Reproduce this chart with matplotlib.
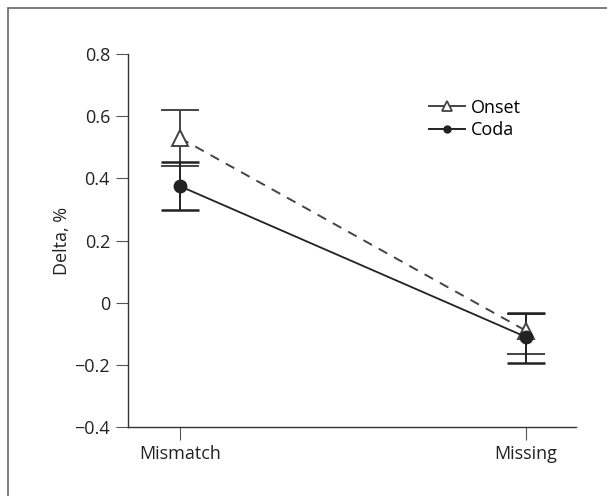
import matplotlib
matplotlib.use("Agg")
import matplotlib.pyplot as plt
from matplotlib.lines import Line2D
from matplotlib.patches import Rectangle

# data
conditions = ["Mismatch", "Missing"]
onset_mean = [0.53, -0.09]
onset_err_lo = [0.09, 0.075]
onset_err_hi = [0.09, 0.055]
coda_mean = [0.375, -0.11]
coda_err_lo = [0.078, 0.083]
coda_err_hi = [0.078, 0.078]

plt.rcParams['font.family'] = ['Open Sans', 'DejaVu Sans']
plt.rcParams['font.size'] = 13
plt.rcParams['axes.linewidth'] = 1.0

fig = plt.figure(figsize=(6.07, 4.96), dpi=100)
ax = fig.add_axes([0.211, 0.139, 0.738, 0.752])

x = list(range(len(conditions)))
ink = "#222222"
grey = "#444444"

ax.errorbar(x, onset_mean, yerr=[onset_err_lo, onset_err_hi], color=grey,
            ls=(0, (5, 4)), lw=1.4, marker="^", ms=11, mfc="white", mec=grey,
            mew=1.4, capsize=14, capthick=1.8, elinewidth=1.4)
ax.errorbar(x, coda_mean, yerr=[coda_err_lo, coda_err_hi], color=ink,
            ls="-", lw=1.3, marker="o", ms=9, mfc=ink, mec=ink,
            capsize=14, capthick=1.8, elinewidth=1.4)

ax.set_xlim(-0.15, 1.145)
ax.set_ylim(-0.4, 0.8)
ax.set_yticks([-0.4, -0.2, 0, 0.2, 0.4, 0.6, 0.8])
ax.set_yticklabels(["\u22120.4", "\u22120.2", "0", "0.2", "0.4", "0.6", "0.8"])
ax.set_xticks(x)
ax.set_xticklabels(conditions)
ax.set_ylabel("Delta, %", color=ink, fontsize=13, labelpad=2)

for s in ["top", "right"]:
    ax.spines[s].set_visible(False)
for s in ["left", "bottom"]:
    ax.spines[s].set_color("#333333")
ax.tick_params(direction="out", length=9, color="#555555", labelcolor=ink, pad=4)

handles = [
    Line2D([], [], color=grey, lw=1.4, marker="^", ms=7, mfc="white", mec=grey, mew=1.3),
    Line2D([], [], color=ink, lw=1.4, marker="o", ms=5, mfc=ink, mec=ink),
]
ax.legend(handles, ["Onset", "Coda"], loc="upper left", bbox_to_anchor=(0.655, 0.9),
          frameon=False, handlelength=2.0, handletextpad=0.35,
          labelspacing=0.25, borderaxespad=0)

# outer frame
fig.patches.append(Rectangle((8 / 607, -0.1), 1.1, 1 - 8 / 496 + 0.1,
                             transform=fig.transFigure, fill=False,
                             ec="#666666", lw=1.2))

fig.savefig("out.png", dpi=100)
